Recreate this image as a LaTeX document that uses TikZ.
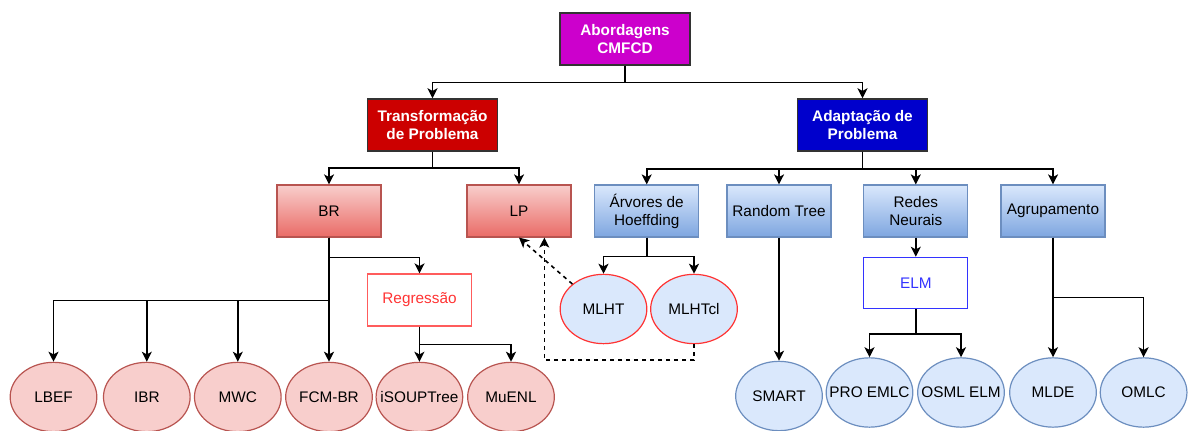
\documentclass[tikz,border=0pt]{standalone}
\usepackage{fontspec}
\setmainfont{Liberation Sans}
\usetikzlibrary{shapes.geometric,arrows.meta}
\definecolor{roxo}{HTML}{CC00CC}
\definecolor{vermelho}{HTML}{CC0000}
\definecolor{azul}{HTML}{0000CC}
\definecolor{redtop}{HTML}{F8CECC}
\definecolor{redbot}{HTML}{EA6B66}
\definecolor{redline}{HTML}{B85450}
\definecolor{bluetop}{HTML}{DAE8FC}
\definecolor{bluebot}{HTML}{7EA6E0}
\definecolor{blueline}{HTML}{6C8EBF}
\definecolor{vivored}{HTML}{FF3333}
\definecolor{vivoblue}{HTML}{3333FF}

\begin{document}
\begin{tikzpicture}[x=0.75pt,y=-0.75pt,
    font=\fontsize{11.5}{13.5}\selectfont,
    conn/.style={line width=1.2pt,-{Stealth[length=7.5pt,width=7.5pt,inset=2pt]}},
    dconn/.style={conn,dash pattern=on 3pt off 3pt},
    topbox/.style={draw=black!80,line width=1.1pt,text=white,font=\fontsize{11.5}{13.5}\selectfont\bfseries,align=center,minimum width=97.5pt,minimum height=39pt,inner sep=1pt},
    redbox/.style={draw=redline,line width=0.9pt,top color=redtop,bottom color=redbot,align=center,minimum width=78pt,minimum height=39pt,inner sep=1pt},
    bluebox/.style={draw=blueline,line width=0.9pt,top color=bluetop,bottom color=bluebot,align=center,minimum width=78pt,minimum height=39pt,inner sep=1pt},
    leaf/.style={ellipse,line width=0.9pt,minimum width=65pt,minimum height=52pt,inner xsep=-8pt,inner ysep=0pt},
    redleaf/.style={leaf,draw=redline,fill=redtop},
    blueleaf/.style={leaf,draw=blueline,fill=bluetop},
    mlleaf/.style={leaf,draw=vivored,fill=bluetop}
]
    \useasboundingbox (0,0) rectangle (1189,431);

    % niveis de cima
    \node[topbox,fill=roxo] (abord) at (625,39) {Abordagens\\CMFCD};
    \node[topbox,fill=vermelho] (transf) at (432.5,125) {Transformação\\de Problema};
    \node[topbox,fill=azul] (adapt) at (862.5,125) {Adaptação de\\Problema};

    \node[redbox] (br) at (329,211) {BR};
    \node[redbox] (lp) at (519,211) {LP};
    \node[bluebox] (arv) at (646.7,211) {Árvores de\\Hoeffding};
    \node[bluebox] (rt) at (779,211) {Random Tree};
    \node[bluebox] (redes) at (915.8,211) {Redes\\Neurais};
    \node[bluebox] (agrup) at (1053,211) {Agrupamento};

    \node[draw=vivored!80,line width=0.9pt,text=vivored,minimum width=78pt,minimum height=39pt] (regr) at (419.5,300) {Regressão};
    \node[draw=vivoblue,line width=0.9pt,text=vivoblue,minimum width=78pt,minimum height=38.5pt] (elm) at (915.8,283) {ELM};

    % folhas
    \node[redleaf] (lbef) at (53.5,397) {LBEF};
    \node[redleaf] (ibr) at (146.8,397) {IBR};
    \node[redleaf] (mwc) at (237.8,397) {MWC};
    \node[redleaf] (fcm) at (329,397) {FCM-BR};
    \node[redleaf] (isoup) at (419.4,397) {iSOUPTree};
    \node[redleaf] (muenl) at (511,397) {MuENL};
    \node[mlleaf] (mlht) at (603.5,309) {MLHT};
    \node[mlleaf] (mlhtcl) at (694,309) {MLHTcl};
    \node[blueleaf] (smart) at (779,396) {SMART};
    \node[blueleaf] (pro) at (869.5,392.5) {PRO EMLC};
    \node[blueleaf] (osml) at (961,392.5) {OSML ELM};
    \node[blueleaf] (mlde) at (1053,392.5) {MLDE};
    \node[blueleaf] (omlc) at (1143.6,392.5) {OMLC};

    % ligacoes
    \draw[conn] (abord.south) -- ++(0,16.7) -| (transf.north);
    \draw[conn] (abord.south) -- ++(0,16.7) -| (adapt.north);
    \draw[conn] (transf.south) -- ++(0,16.3) -| (br.north);
    \draw[conn] (transf.south) -- ++(0,16.3) -| (lp.north);
    \draw[conn] (adapt.south) -- ++(0,17.3) -| (arv.north);
    \draw[conn] (adapt.south) -- ++(0,17.3) -| (rt.north);
    \draw[conn] (adapt.south) -- ++(0,17.3) -| (redes.north);
    \draw[conn] (adapt.south) -- ++(0,17.3) -| (agrup.north);

    \draw[conn] (br.south) -- ++(0,63) -| (lbef.north);
    \draw[conn] (br.south) -- ++(0,63) -| (ibr.north);
    \draw[conn] (br.south) -- ++(0,63) -| (mwc.north);
    \draw[conn] (br.south) -- (fcm.north);
    \draw[conn] (br.south) -- ++(0,19.7) -| (regr.north);
    \draw[conn] (regr.south) -- ++(0,18) -| (isoup.north);
    \draw[conn] (regr.south) -- ++(0,18) -| (muenl.north);

    \draw[conn] (arv.south) -- ++(0,19) -| (mlht.north);
    \draw[conn] (arv.south) -- ++(0,19) -| (mlhtcl.north);
    \draw[conn] (rt.south) -- (smart.north);
    \draw[conn] (redes.south) -- (elm.north);
    \draw[conn] (elm.south) -- ++(0,24.6) -| (pro.north);
    \draw[conn] (elm.south) -- ++(0,24.6) -| (osml.north);
    \draw[conn] (agrup.south) -- (mlde.north);
    \draw[conn] (agrup.south) -- ++(0,60) -| (omlc.north);

    \draw[dconn] (mlht.north west) -- (lp.south);
    \draw[dconn] (mlhtcl.south) -- ++(0,16) -| ([xshift=19pt]lp.south);
\end{tikzpicture}
\end{document}
